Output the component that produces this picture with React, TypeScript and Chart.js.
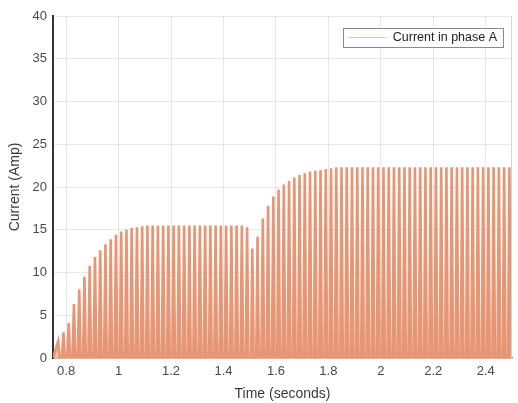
import { useEffect, useRef } from "react";
import { Chart, registerables } from "chart.js";

Chart.register(...registerables);

const seriesLabel = "Current in phase A";
const xTitle = "Time (seconds)";
const yTitle = "Current (Amp)";
const xTickValues = [0.8, 1.0, 1.2, 1.4, 1.6, 1.8, 2.0, 2.2, 2.4];
const yTickStep = 5;

// Positive peaks of the phase current (one per cycle)
const peakTimes = [
  0.77, 0.79, 0.81, 0.83, 0.85, 0.87, 0.89, 0.91, 0.93, 0.95, 0.97, 0.99,
  1.01, 1.03, 1.05, 1.07, 1.09, 1.11, 1.13, 1.15, 1.17, 1.19, 1.21, 1.23, 1.25,
  1.27, 1.29, 1.31, 1.33, 1.35, 1.37, 1.39, 1.41, 1.43, 1.45, 1.47, 1.49,
  1.51, 1.53, 1.55, 1.57, 1.59, 1.61, 1.63, 1.65, 1.67, 1.69, 1.71, 1.73, 1.75,
  1.77, 1.79, 1.81, 1.83, 1.85, 1.87, 1.89, 1.91, 1.93, 1.95, 1.97, 1.99,
  2.01, 2.03, 2.05, 2.07, 2.09, 2.11, 2.13, 2.15, 2.17, 2.19, 2.21, 2.23, 2.25,
  2.27, 2.29, 2.31, 2.33, 2.35, 2.37, 2.39, 2.41, 2.43, 2.45, 2.47, 2.49,
];
const peakCurrents = [
  2.0, 3.0, 4.1, 6.3, 8.0, 9.5, 10.8, 11.8, 12.6, 13.3, 13.9, 14.4,
  14.8, 15.0, 15.2, 15.3, 15.4, 15.5, 15.5, 15.5, 15.5, 15.5, 15.5, 15.5, 15.5,
  15.5, 15.5, 15.5, 15.5, 15.5, 15.5, 15.5, 15.5, 15.5, 15.5, 15.5, 15.3,
  12.8, 14.2, 16.3, 17.8, 18.9, 19.7, 20.3, 20.7, 21.1, 21.4, 21.6, 21.8, 21.9,
  22.0, 22.1, 22.2, 22.3, 22.3, 22.3, 22.3, 22.3, 22.3, 22.3, 22.3, 22.3,
  22.3, 22.3, 22.3, 22.3, 22.3, 22.3, 22.3, 22.3, 22.3, 22.3, 22.3, 22.3, 22.3,
  22.3, 22.3, 22.3, 22.3, 22.3, 22.3, 22.3, 22.3, 22.3, 22.3, 22.3, 22.3,
];
// Negative half-cycle troughs (below the 0 limit of the axis, so clipped)
const troughTimes = [
  0.75, 0.78, 0.8, 0.82, 0.84, 0.86, 0.88, 0.9, 0.92, 0.94, 0.96, 0.98,
  1.0, 1.02, 1.04, 1.06, 1.08, 1.1, 1.12, 1.14, 1.16, 1.18, 1.2, 1.22, 1.24,
  1.26, 1.28, 1.3, 1.32, 1.34, 1.36, 1.38, 1.4, 1.42, 1.44, 1.46, 1.48, 1.5,
  1.52, 1.54, 1.56, 1.58, 1.6, 1.62, 1.64, 1.66, 1.68, 1.7, 1.72, 1.74, 1.76,
  1.78, 1.8, 1.82, 1.84, 1.86, 1.88, 1.9, 1.92, 1.94, 1.96, 1.98, 2.0,
  2.02, 2.04, 2.06, 2.08, 2.1, 2.12, 2.14, 2.16, 2.18, 2.2, 2.22, 2.24, 2.26,
  2.28, 2.3, 2.32, 2.34, 2.36, 2.38, 2.4, 2.42, 2.44, 2.46, 2.48, 2.5,
];
const troughCurrents = [
  0, -2.0, -3.0, -4.1, -6.3, -8.0, -9.5, -10.8, -11.8, -12.6, -13.3, -13.9,
  -14.4, -14.8, -15.0, -15.2, -15.3, -15.4, -15.5, -15.5, -15.5, -15.5, -15.5, -15.5, -15.5,
  -15.5, -15.5, -15.5, -15.5, -15.5, -15.5, -15.5, -15.5, -15.5, -15.5, -15.5, -15.5, -15.3,
  -12.8, -14.2, -16.3, -17.8, -18.9, -19.7, -20.3, -20.7, -21.1, -21.4, -21.6, -21.8, -21.9,
  -22.0, -22.1, -22.2, -22.3, -22.3, -22.3, -22.3, -22.3, -22.3, -22.3, -22.3, -22.3,
  -22.3, -22.3, -22.3, -22.3, -22.3, -22.3, -22.3, -22.3, -22.3, -22.3, -22.3, -22.3, -22.3,
  -22.3, -22.3, -22.3, -22.3, -22.3, -22.3, -22.3, -22.3, -22.3, -22.3, -22.3, -22.3,
];

const FONT = "'Liberation Sans', Arial, Helvetica, sans-serif";

const framePlugin = {
  id: "frame",
  afterDatasetsDraw(chart: any) {
    const { ctx, chartArea } = chart;
    ctx.save();
    ctx.strokeStyle = "#d4d4d4";
    ctx.lineWidth = 1;
    ctx.beginPath();
    ctx.moveTo(Math.round(chartArea.right) - 0.5, chartArea.top);
    ctx.lineTo(Math.round(chartArea.right) - 0.5, chartArea.bottom);
    ctx.stroke();
    ctx.restore();
  },
};

const legendPlugin = {
  id: "boxLegend",
  afterDraw(chart: any) {
    const { ctx, chartArea } = chart;
    const ds = chart.data.datasets[0];
    ctx.save();
    ctx.font = `12.5px ${FONT}`;
    const textW = ctx.measureText(ds.label).width;
    const sampleW = 39;
    const boxW = 5 + sampleW + 6 + textW + 6;
    const boxH = 19;
    const right = chartArea.right - 9;
    const left = right - boxW;
    const top = chartArea.top + 12;
    ctx.fillStyle = "#ffffff";
    ctx.fillRect(left, top, boxW, boxH);
    ctx.strokeStyle = "#8a8a8a";
    ctx.lineWidth = 1;
    ctx.strokeRect(Math.round(left) + 0.5, Math.round(top) + 0.5, Math.round(boxW), boxH);
    ctx.strokeStyle = "rgb(242,196,170)";
    ctx.lineWidth = 1.2;
    ctx.beginPath();
    ctx.moveTo(left + 5, top + boxH / 2);
    ctx.lineTo(left + 5 + sampleW, top + boxH / 2);
    ctx.stroke();
    ctx.fillStyle = "#222222";
    ctx.textBaseline = "middle";
    ctx.textAlign = "left";
    ctx.fillText(ds.label, left + 5 + sampleW + 6, top + boxH / 2 + 0.5);
    ctx.restore();
  },
};

export default function App() {
  const ref = useRef<HTMLCanvasElement>(null);

  useEffect(() => {
    document.body.style.margin = "0";
    const points: { x: number; y: number }[] = [];
    troughTimes.forEach((t, i) => points.push({ x: t, y: troughCurrents[i] }));
    peakTimes.forEach((t, i) => points.push({ x: t, y: peakCurrents[i] }));
    points.sort((a, b) => a.x - b.x);

    const chart = new Chart(ref.current as HTMLCanvasElement, {
      type: "line",
      data: {
        datasets: [
          {
            label: seriesLabel,
            data: points,
            borderColor: "rgb(230,150,116)",
            borderWidth: 2.6,
            backgroundColor: "rgb(245,194,170)",
            fill: "origin",
            pointRadius: 0,
            tension: 0,
          },
        ],
      },
      options: {
        animation: false,
        responsive: false,
        layout: { padding: { top: 16, right: 6, left: 0, bottom: 0 } },
        plugins: { legend: { display: false }, tooltip: { enabled: false } },
        scales: {
          x: {
            type: "linear",
            min: 0.75,
            max: 2.5,
            afterBuildTicks: (s: any) => {
              s.ticks = xTickValues.map((v) => ({ value: v }));
            },
            afterFit: (s: any) => {
              s.height = 45;
            },
            ticks: {
              autoSkip: false,
              maxRotation: 0,
              padding: 6,
              color: "#4a4a4a",
              font: { family: FONT, size: 13 },
              callback: (v: any) => String(Number(Number(v).toFixed(1))),
            },
            grid: { color: "rgba(0,0,0,0.09)", drawTicks: false },
            border: { display: true, color: "rgb(214,120,85)", width: 1.5 },
            title: {
              display: true,
              text: xTitle,
              color: "#3a3a3a",
              font: { family: FONT, size: 14 },
              padding: { top: 0, bottom: 0 },
            },
          },
          y: {
            min: 0,
            max: 40,
            afterFit: (s: any) => {
              s.width = 53;
            },
            ticks: {
              stepSize: yTickStep,
              padding: 6,
              color: "#4a4a4a",
              font: { family: FONT, size: 13 },
            },
            grid: { color: "rgba(0,0,0,0.09)", drawTicks: false },
            border: { display: true, color: "#333", width: 2 },
            title: {
              display: true,
              text: yTitle,
              color: "#3a3a3a",
              font: { family: FONT, size: 14 },
              padding: { top: 7, bottom: 0 },
            },
          },
        },
      },
      plugins: [framePlugin, legendPlugin],
    });
    return () => chart.destroy();
  }, []);

  return <canvas ref={ref} width={518} height={403} style={{ display: "block" }} />;
}
